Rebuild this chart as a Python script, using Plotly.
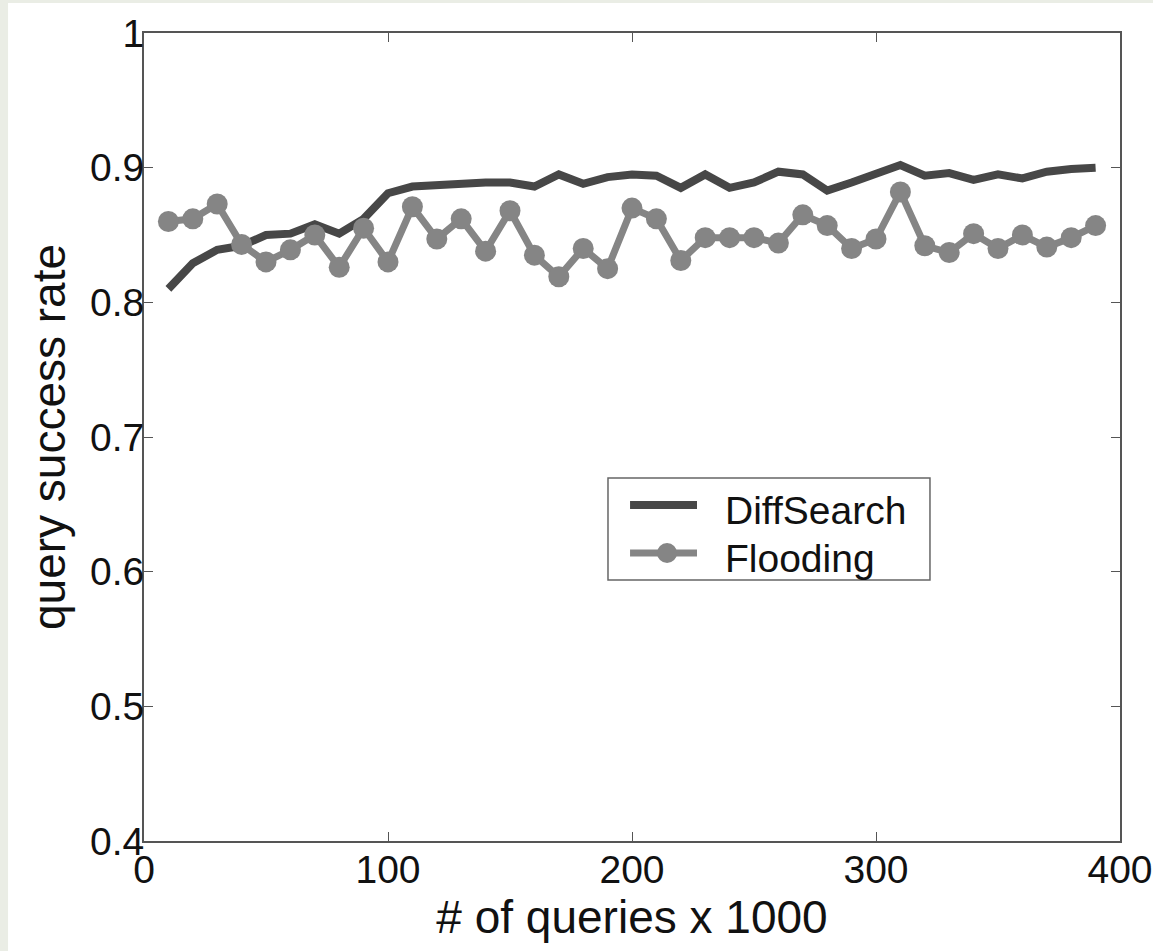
import plotly.graph_objects as go

# number of queries (x 1000)
queries = [10, 20, 30, 40, 50, 60, 70, 80, 90, 100, 110, 120, 130, 140, 150, 160, 170, 180, 190, 200,
           210, 220, 230, 240, 250, 260, 270, 280, 290, 300, 310, 320, 330, 340, 350, 360, 370, 380, 390]

diffsearch = [0.810, 0.829, 0.839, 0.842, 0.850, 0.851, 0.858, 0.851, 0.862, 0.881, 0.886, 0.887, 0.889,
              0.889, 0.889, 0.886, 0.895, 0.888, 0.893, 0.895, 0.894, 0.885, 0.895, 0.885, 0.889, 0.897,
              0.895, 0.883, 0.889, 0.895, 0.902, 0.894, 0.896, 0.891, 0.895, 0.892, 0.897, 0.899, 0.900]

flooding = [0.860, 0.862, 0.873, 0.843, 0.830, 0.839, 0.850, 0.826, 0.855, 0.830, 0.871, 0.847, 0.862,
            0.838, 0.868, 0.835, 0.819, 0.840, 0.825, 0.870, 0.862, 0.831, 0.848, 0.848, 0.848, 0.844,
            0.865, 0.857, 0.840, 0.847, 0.882, 0.842, 0.837, 0.851, 0.840, 0.850, 0.841, 0.848, 0.857]

x_ticks = [0, 100, 200, 300, 400]
y_ticks = [0.4, 0.5, 0.6, 0.7, 0.8, 0.9, 1]

DARK = "#474747"
GREY = "#858585"
FONT = "Liberation Sans, Arial, sans-serif"

fig = go.Figure()
fig.add_trace(go.Scatter(x=queries, y=diffsearch, mode="lines", name="DiffSearch",
                         line=dict(color=DARK, width=8), showlegend=False))
fig.add_trace(go.Scatter(x=queries, y=flooding, mode="lines+markers", name="Flooding",
                         line=dict(color=GREY, width=7),
                         marker=dict(color=GREY, size=21, line=dict(width=0)), showlegend=False))

axis_common = dict(showgrid=False, zeroline=False, showline=True, linecolor="#555555", linewidth=2,
                   mirror="ticks", ticks="inside", ticklen=9, tickwidth=1, tickcolor="#555555",
                   tickfont=dict(family=FONT, size=39, color="#111111"))

fig.update_xaxes(range=[0, 400], tickvals=x_ticks, ticklabelstandoff=-7,
                 title=dict(text="# of queries x 1000", font=dict(family=FONT, size=46, color="#111111"),
                            standoff=2),
                 **axis_common)
fig.update_yaxes(range=[0.4, 1], tickvals=y_ticks, ticklabelstandoff=-10,
                 title=dict(text="query success rate", font=dict(family=FONT, size=46, color="#111111"),
                            standoff=10),
                 **axis_common)

# page backdrop with a light border strip on the left and top
shapes = [
    dict(type="rect", xref="paper", yref="paper", x0=-0.1393, x1=1.04, y0=-0.14, y1=1.0371,
         fillcolor="white", line=dict(width=0), layer="below"),
]

# legend box with line samples
lx0, lx1, ly0, ly1 = 0.4754, 0.8053, 0.3230, 0.4493
shapes.append(dict(type="rect", xref="paper", yref="paper", x0=lx0, x1=lx1, y0=ly0, y1=ly1,
                   line=dict(color="#666666", width=1.5), fillcolor="white"))
shapes.append(dict(type="line", xref="paper", yref="paper", x0=0.498, x1=0.5666, y0=0.4158, y1=0.4158,
                   line=dict(color=DARK, width=8)))
shapes.append(dict(type="line", xref="paper", yref="paper", x0=0.498, x1=0.5666, y0=0.3564, y1=0.3564,
                   line=dict(color=GREY, width=7)))
shapes.append(dict(type="circle", xref="paper", yref="paper", xsizemode="pixel", ysizemode="pixel",
                   xanchor=0.5359, yanchor=0.3564, x0=-10, x1=10, y0=-10, y1=10,
                   fillcolor=GREY, line=dict(width=0)))

annotations = [
    dict(text="DiffSearch", xref="paper", yref="paper", x=0.593, y=0.4096, xanchor="left",
         yanchor="middle", showarrow=False, font=dict(family=FONT, size=39, color="#111111")),
    dict(text="Flooding", xref="paper", yref="paper", x=0.593, y=0.3500, xanchor="left",
         yanchor="middle", showarrow=False, font=dict(family=FONT, size=39, color="#111111")),
]

fig.update_layout(width=1153, height=951, margin=dict(l=144, r=33, t=33, b=110, autoexpand=False),
                  paper_bgcolor="#eaede5", plot_bgcolor="white",
                  shapes=shapes, annotations=annotations, showlegend=False)

fig.write_html("out.html")
